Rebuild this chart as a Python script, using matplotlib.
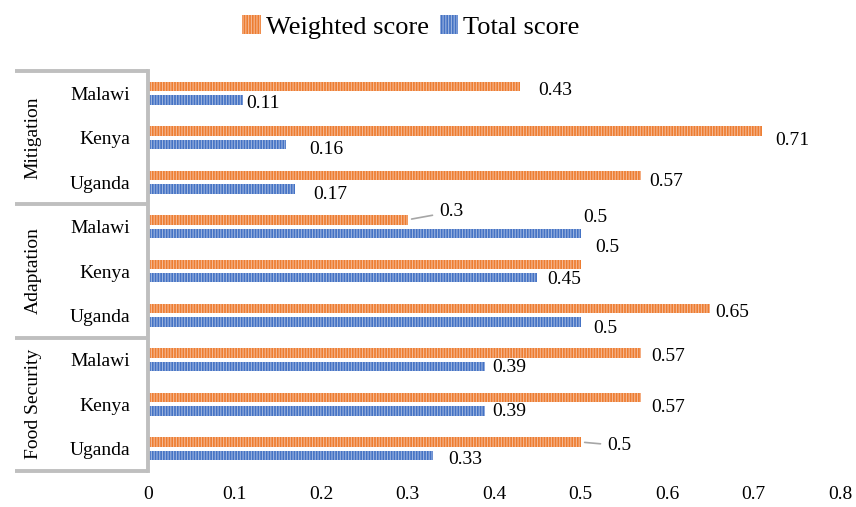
import numpy as np
import matplotlib
matplotlib.use("Agg")
import matplotlib.pyplot as plt

# Data
groups = ["Mitigation", "Adaptation", "Food Security"]
countries = ["Malawi", "Kenya", "Uganda"]
weighted = [0.43, 0.71, 0.57, 0.3, 0.5, 0.65, 0.57, 0.57, 0.5]
total = [0.11, 0.16, 0.17, 0.5, 0.45, 0.5, 0.39, 0.39, 0.33]
xticks = [0, 0.1, 0.2, 0.3, 0.4, 0.5, 0.6, 0.7, 0.8]

# label offsets (pixels from bar end / bar centre), hand placed like the original
w_dx = [35, 30, 25, 44, 27, 22, 27, 27, 39]
w_dy = [-4.5, -10, -6, 8, 17, -4, -3.5, -10, -3.5]
t_dx = [20, 40, 35, 15, 27, 25, 24, 24, 32]
t_dy = [-4, -5, -6, 15.5, -1.5, -6.5, -1, 0, -3.5]
w_leader = [False, False, False, True, False, False, False, False, True]

ORANGE = "#ED7D31"
BLUE = "#4472C4"
ORANGE_HATCH = "#F6B994"
BLUE_HATCH = "#9DB5E0"
GREY = "#BFBFBF"

plt.rcParams['font.family'] = ['Liberation Serif', 'DejaVu Serif']
plt.rcParams['hatch.linewidth'] = 0.8

fig = plt.figure(figsize=(8.56, 5.07), dpi=100)
ax = fig.add_axes([148 / 856, 1 - 471 / 507, (840 - 148) / 856, 400 / 507])

n = len(weighted)
rows = np.arange(n)
bh = 0.213
off = 0.152

bw = ax.barh(rows - off, weighted, height=bh, color=ORANGE, edgecolor=ORANGE_HATCH,
             linewidth=0, hatch="||||||", label="Weighted score")
bt = ax.barh(rows + off, total, height=bh, color=BLUE, edgecolor=BLUE_HATCH,
             linewidth=0, hatch="||||||", label="Total score")

ax.set_xlim(0, 0.8)
ax.set_ylim(n - 0.5, -0.5)
ax.set_xticks(xticks)
ax.set_xticklabels([f"{t:g}" for t in xticks])
ax.set_yticks(rows)
ax.set_yticklabels(countries * len(groups))
ax.tick_params(axis="both", length=0, labelsize=14)
ax.tick_params(axis="y", pad=13)
ax.tick_params(axis="x", pad=11)

for s in ["top", "right", "bottom"]:
    ax.spines[s].set_visible(False)
ax.spines["left"].set_color(GREY)
ax.spines["left"].set_linewidth(2.8)

# data labels
for i in range(n):
    if w_leader[i]:
        ax.annotate(f"{weighted[i]:g}", xy=(weighted[i], rows[i] - off),
                    xytext=(w_dx[i], w_dy[i]), textcoords="offset pixels",
                    ha="center", va="center", fontsize=14,
                    arrowprops=dict(arrowstyle="-", color="#A6A6A6", lw=1.2,
                                    shrinkA=3, shrinkB=3))
    else:
        ax.annotate(f"{weighted[i]:g}", xy=(weighted[i], rows[i] - off),
                    xytext=(w_dx[i], w_dy[i]), textcoords="offset pixels",
                    ha="center", va="center", fontsize=14)
    ax.annotate(f"{total[i]:g}", xy=(total[i], rows[i] + off),
                xytext=(t_dx[i], t_dy[i]), textcoords="offset pixels",
                ha="center", va="center", fontsize=14)

# group boxes on the left
trans = ax.get_yaxis_transform()
x_left = (15 - 148) / (840 - 148)
for k in range(len(groups) + 1):
    yb = k * 3 - 0.5
    ax.plot([x_left, 0], [yb, yb], color=GREY, lw=2.8, transform=trans,
            clip_on=False, solid_capstyle="butt")
for k, g in enumerate(groups):
    ax.text((33 - 148) / (840 - 148), k * 3 + 1, g, rotation=90, ha="center",
            va="center", fontsize=14, transform=trans)

ax.legend(handles=[bw, bt], loc="center", bbox_to_anchor=(411 / 856, 1 - 27 / 507),
          bbox_transform=fig.transFigure, ncol=2, frameon=False, fontsize=19,
          handlelength=0.7, handleheight=0.7, handletextpad=0.2, columnspacing=0.4)

fig.savefig("out.png", dpi=100)
